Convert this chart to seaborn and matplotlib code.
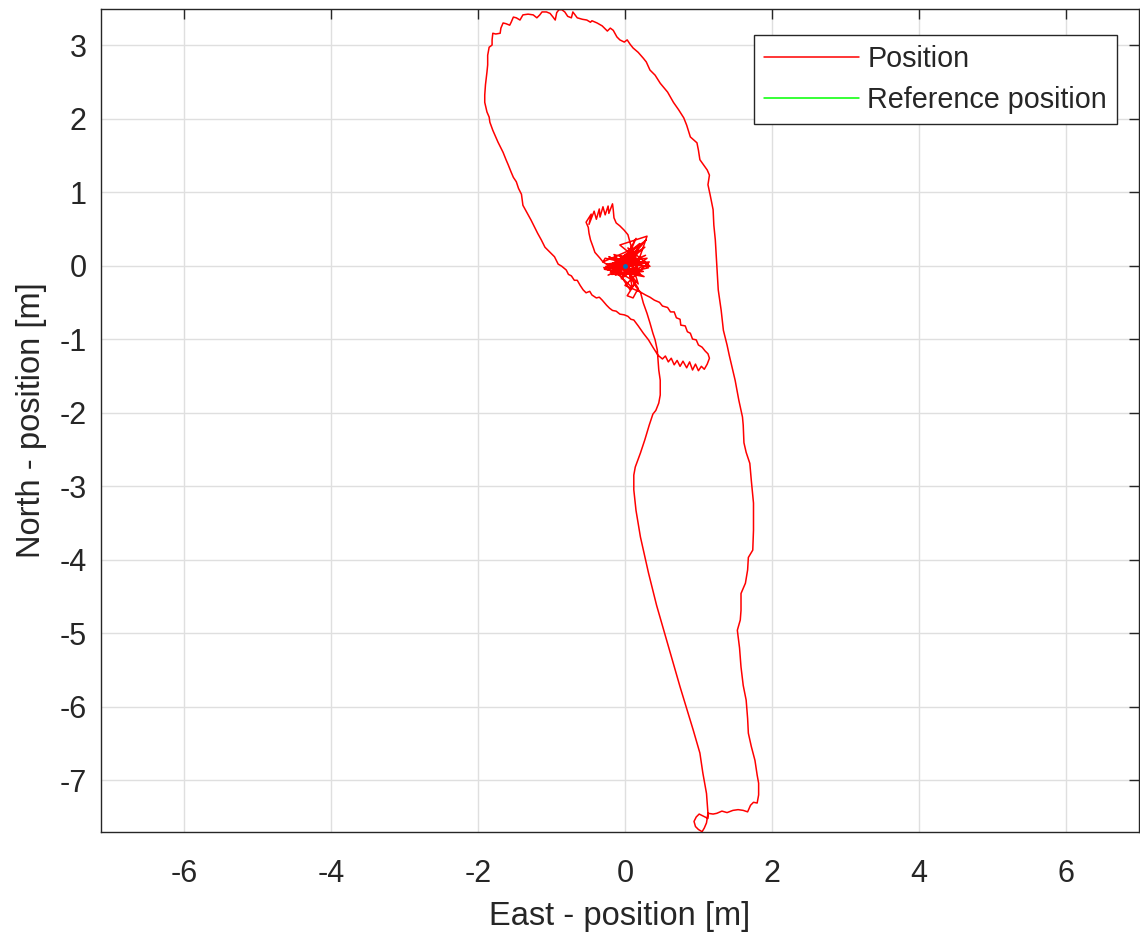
import matplotlib
matplotlib.use("Agg")
import matplotlib.pyplot as plt
import seaborn as sns
import pandas as pd

# Flight track, east / north position in metres (in flight order)
east = [
    # hover at the origin
    0.00, -0.22, 0.25, -0.18, 0.12, -0.05, 0.30, -0.25, 0.08, 0.20, -0.10, 0.26,
    -0.28, 0.05, 0.18, -0.15, 0.32, -0.02, 0.14, -0.20, 0.10, 0.02, 0.27, -0.12,
    0.22,
    -0.17, 0.21, -0.26, 0.28, -0.20, 0.18, -0.13, 0.32, -0.07, 0.10, -0.30,
    0.23, -0.09, 0.15, 0.02, 0.29, -0.23, 0.21, 0.04, 0.34, -0.17, 0.07, 0.15,
    0.03, 0.11, 0.18, -0.04, -0.27, -0.30,
    # small loop north-west of the origin
    -0.34, -0.41, -0.43, -0.47, -0.49, -0.50, -0.53, -0.46, -0.49, -0.42, -0.39,
    -0.35, -0.34, -0.30, -0.27, -0.23, -0.22, -0.17, -0.16, -0.15, -0.12, -0.07,
    -0.01, 0.04, 0.07, 0.10, 0.08,
    # hover again
    -0.13, 0.28, -0.23, 0.21, -0.07, 0.30, 0.14, -0.29, 0.33, 0.00, 0.21,
    # leg to the south
    0.25, 0.30, 0.34, 0.38, 0.41, 0.44, 0.45, 0.46, 0.48, 0.48, 0.46, 0.42, 0.38,
    0.33, 0.27, 0.21, 0.14, 0.12, 0.12, 0.15, 0.21, 0.32, 0.43, 0.58, 0.75, 0.93,
    1.02, 1.06, 1.11, 1.13,
    # turn at the southern end
    1.13, 1.07, 1.01, 0.97, 0.94, 0.96, 1.00, 1.05, 1.08, 1.11, 1.13,
    1.20, 1.25, 1.32, 1.39, 1.47, 1.54, 1.61, 1.67, 1.71, 1.75, 1.80, 1.82, 1.82,
    # leg back to the north
    1.80, 1.77, 1.72, 1.68, 1.67, 1.65, 1.61, 1.58, 1.56, 1.53, 1.57, 1.58, 1.58,
    1.64, 1.67, 1.68, 1.74, 1.75, 1.75, 1.72, 1.70, 1.65, 1.62, 1.61, 1.60, 1.55,
    1.50, 1.45, 1.42, 1.39, 1.34, 1.31, 1.27, 1.25, 1.23, 1.21, 1.20, 1.16,
    # big loop in the north
    1.13, 1.15, 1.12, 1.07, 1.02, 1.00, 0.98, 0.89, 0.84, 0.80, 0.73, 0.66, 0.58,
    0.48, 0.41, 0.34, 0.29, 0.25, 0.18, 0.11, 0.07, 0.03, -0.01, -0.07, -0.11,
    -0.16, -0.20, -0.24, -0.31, -0.38, -0.45, -0.47, -0.52, -0.58, -0.65, -0.68,
    -0.71, -0.73, -0.78, -0.82, -0.86, -0.90, -0.93, -0.95, -0.98, -1.02, -1.07,
    -1.13, -1.16, -1.20, -1.25, -1.32, -1.39, -1.43, -1.48, -1.52, -1.55, -1.57,
    -1.62, -1.66, -1.69, -1.70, -1.76, -1.80, -1.81, -1.81, -1.85, -1.87, -1.87,
    -1.88, -1.90, -1.91, -1.91, -1.88, -1.85, -1.84, -1.80, -1.76, -1.73, -1.66,
    -1.62, -1.59, -1.55, -1.52, -1.48, -1.45, -1.41, -1.39, -1.33, -1.28, -1.24,
    -1.19, -1.14, -1.09, -1.02, -0.96, -0.91, -0.86, -0.80, -0.77, -0.73, -0.69,
    -0.65, -0.61, -0.57, -0.53, -0.48, -0.45, -0.39, -0.35, -0.31, -0.25, -0.21,
    -0.17, -0.12, -0.07, -0.01, 0.04, 0.08, 0.12, 0.18, 0.25, 0.32, 0.38, 0.45,
    # lobe to the south-east and return to the origin
    0.51, 0.55, 0.59, 0.63, 0.67, 0.71, 0.75, 0.79, 0.84, 0.88, 0.92, 0.96, 1.00,
    1.04, 1.08, 1.12, 1.15, 1.13, 1.09, 1.05, 1.00, 0.97, 0.92, 0.89, 0.85, 0.82,
    0.76, 0.75, 0.70, 0.67, 0.62, 0.58, 0.51, 0.47, 0.40, 0.34, 0.28, 0.21, 0.15,
    0.10,
]
north = [
    0.01, 0.12, -0.08, -0.12, 0.22, -0.18, 0.10, 0.02, -0.10, 0.30, 0.06, -0.15,
    -0.05, 0.18, -0.25, 0.15, 0.02, -0.12, 0.12, -0.02, -0.30, 0.10, 0.25, -0.08,
    0.05,
    0.10, -0.06, -0.01, 0.05, -0.09, 0.21, -0.13, -0.03, 0.14, -0.20, 0.05,
    0.28, -0.06, 0.37, 0.07, 0.35, -0.06, -0.13, 0.24, -0.01, 0.03, -0.33, -0.22,
    -0.41, -0.44, -0.31, 0.05, 0.10, 0.05,
    0.10, 0.18, 0.24, 0.35, 0.44, 0.52, 0.59, 0.70, 0.56, 0.74, 0.63,
    0.77, 0.66, 0.80, 0.69, 0.81, 0.71, 0.84, 0.76, 0.65, 0.58, 0.54,
    0.48, 0.42, 0.31, 0.21, 0.13,
    -0.03, 0.14, -0.13, 0.05, 0.28, 0.40, -0.06, -0.03, 0.05, -0.27, -0.36,
    -0.51, -0.65, -0.78, -0.92, -1.01, -1.15, -1.29, -1.42, -1.56, -1.76, -1.87,
    -1.97, -2.02, -2.17, -2.37, -2.55, -2.74, -2.85, -3.05, -3.33, -3.69, -4.18,
    -4.62, -5.14, -5.73, -6.32, -6.63, -6.90, -7.18, -7.45,
    -7.52, -7.49, -7.46, -7.50, -7.56, -7.63, -7.67, -7.70, -7.65, -7.58, -7.45,
    -7.46, -7.45, -7.42, -7.44, -7.41, -7.40, -7.41, -7.43, -7.34, -7.30, -7.31,
    -7.20, -7.04,
    -6.93, -6.73, -6.54, -6.36, -6.16, -5.91, -5.71, -5.46, -5.20, -4.96, -4.82,
    -4.69, -4.46, -4.32, -4.14, -3.97, -3.87, -3.60, -3.23, -2.92, -2.69, -2.54,
    -2.41, -2.17, -2.06, -1.83, -1.56, -1.35, -1.22, -1.08, -0.88, -0.61, -0.33,
    0.01, 0.35, 0.55, 0.76, 0.96,
    1.10, 1.23, 1.30, 1.37, 1.44, 1.57, 1.67, 1.75, 1.91, 2.01, 2.12, 2.22, 2.36,
    2.48, 2.59, 2.66, 2.77, 2.82, 2.90, 2.96, 3.01, 3.07, 3.04, 3.07, 3.11, 3.20,
    3.23, 3.19, 3.26, 3.30, 3.33, 3.31, 3.34, 3.35, 3.37, 3.41, 3.45, 3.37, 3.39,
    3.45, 3.48, 3.48, 3.44, 3.34, 3.38, 3.43, 3.45, 3.45, 3.41, 3.37, 3.41, 3.42,
    3.41, 3.34, 3.37, 3.38, 3.31, 3.27, 3.29, 3.30, 3.23, 3.16, 3.15, 3.16, 3.07,
    3.00, 2.97, 2.86, 2.73, 2.63, 2.46, 2.32, 2.22, 2.09, 2.02, 1.95, 1.84, 1.75,
    1.68, 1.54, 1.44, 1.37, 1.27, 1.20, 1.14, 1.05, 0.97, 0.82, 0.71, 0.62, 0.54,
    0.44, 0.35, 0.25, 0.18, 0.12, 0.02, -0.01, -0.06, -0.12, -0.14, -0.20, -0.20,
    -0.27, -0.33, -0.37, -0.35, -0.40, -0.44, -0.43, -0.47, -0.54, -0.58, -0.61,
    -0.62, -0.66, -0.67, -0.69, -0.73, -0.74, -0.82, -0.92, -1.01, -1.11, -1.22,
    -1.27, -1.23, -1.31, -1.26, -1.35, -1.29, -1.37, -1.30, -1.39, -1.31, -1.42,
    -1.34, -1.43, -1.37, -1.41, -1.34, -1.26, -1.20, -1.16, -1.11, -1.08, -1.01,
    -1.00, -0.92, -0.90, -0.82, -0.81, -0.73, -0.71, -0.63, -0.63, -0.57, -0.55,
    -0.50, -0.47, -0.43, -0.40, -0.36, -0.29, -0.20,
]

# Reference set-point (origin)
ref_east = [0.0]
ref_north = [0.0]

x_ticks = [-6, -4, -2, 0, 2, 4, 6]
y_ticks = [-7, -6, -5, -4, -3, -2, -1, 0, 1, 2, 3]

track = pd.DataFrame({"east": east, "north": north, "step": range(len(east))})
reference = pd.DataFrame({"east": ref_east, "north": ref_north})

sns.set_style("white")
plt.rcParams["font.family"] = ["Liberation Sans", "DejaVu Sans"]
plt.rcParams["axes.unicode_minus"] = False

dark = "#262626"
fig = plt.figure(figsize=(11.4, 9.38), dpi=100)
ax = fig.add_axes([100.7 / 1140, 1 - 831.7 / 938,
                   (1139 - 100.7) / 1140, (831.7 - 9) / 938])

sns.lineplot(data=track, x="east", y="north", sort=False, estimator=None,
             color="#ff0000", lw=1.1, ax=ax, label="Position")
sns.lineplot(data=reference, x="east", y="north", sort=False, estimator=None,
             color="#00ff00", lw=1.1, ax=ax, label="Reference position")
ax.plot(ref_east, ref_north, "o", ms=2.5, color="#0072bd", zorder=4)

ax.set_xlim(-7.14, 7.0)
ax.set_ylim(-7.70, 3.49)
ax.set_xticks(x_ticks)
ax.set_yticks(y_ticks)
ax.grid(True, color="#dfdfdf", lw=1.0)
ax.set_axisbelow(True)

ax.tick_params(direction="in", length=7, width=1.0, color=dark,
               labelsize=22, labelcolor=dark, top=True, right=True)
ax.tick_params(axis="x", pad=20)
ax.tick_params(axis="y", pad=10)
for s in ax.spines.values():
    s.set_visible(True)
    s.set_color(dark)
    s.set_linewidth(1.0)

ax.set_xlabel("East - position [m]", fontsize=23.5, color=dark, labelpad=8)
ax.set_ylabel("North - position [m]", fontsize=23.5, color=dark, labelpad=9)

leg = ax.legend(loc="upper right", bbox_to_anchor=(1117 / 1140, 1 - 35 / 938),
                bbox_transform=fig.transFigure, borderaxespad=0,
                fontsize=20.7, frameon=True, fancybox=False,
                edgecolor=dark, framealpha=1, handlelength=3.3,
                borderpad=0.35, labelspacing=0.45, handletextpad=0.3)
leg.get_frame().set_linewidth(1.0)
for line in leg.get_lines():
    line.set_linewidth(1.1)

fig.savefig("out.png", dpi=100)
